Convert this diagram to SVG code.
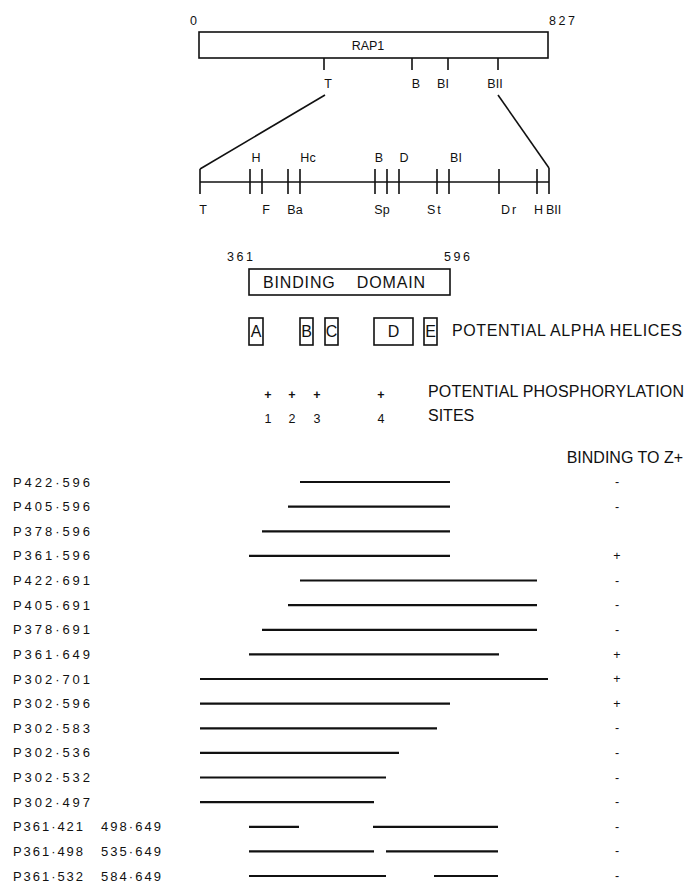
<svg xmlns="http://www.w3.org/2000/svg" width="685" height="883" viewBox="0 0 685 883">
<style>
text{font-family:"Liberation Sans",Arial,sans-serif;fill:#111}
.num{font-size:12.5px;letter-spacing:2.5px}
.lab{font-size:12.5px}
.big{font-size:16px}
.box{fill:none;stroke:#111;stroke-width:1.6}
.ln{stroke:#111;stroke-width:1.6;fill:none}
.frag{stroke:#111;stroke-width:2.2}
.row{font-size:13px}
.sg{font-size:12.5px;text-anchor:middle}
</style>
<rect width="685" height="883" fill="#fff"/>

<g id="rap1">
  <text class="num" x="190" y="25">0</text>
  <text class="num" x="549" y="25">827</text>
  <rect class="box" x="199" y="32" width="349" height="26"/>
  <text class="lab" x="368" y="50" text-anchor="middle" font-size="13">RAP1</text>
  <path class="ln" d="M324 58V70M412 58V70M448 58V70M498 58V70"/>
  <text class="lab" x="328" y="88" text-anchor="middle">T</text>
  <text class="lab" x="416" y="88" text-anchor="middle">B</text>
  <text class="lab" x="443" y="88" text-anchor="middle">BI</text>
  <text class="lab" x="495" y="88" text-anchor="middle">BII</text>
</g>

<g id="connectors">
  <path class="ln" d="M325 95L200 169" stroke-width="2"/>
  <path class="ln" d="M498 95L549 168" stroke-width="2"/>
</g>

<g id="restriction-map">
  <path class="ln" d="M200 182H549"/>
  <path class="ln" d="M200 169V194M549 168V194M250 169V194M262 169V194M288 169V194M300 169V194M375 169V194M387 169V194M399 169V194M437 169V194M449 169V194M499 169V194M537 169V194"/>
  <text class="lab" x="256" y="162" text-anchor="middle">H</text>
  <text class="lab" x="308" y="162" text-anchor="middle">Hc</text>
  <text class="lab" x="379" y="162" text-anchor="middle">B</text>
  <text class="lab" x="404" y="162" text-anchor="middle">D</text>
  <text class="lab" x="456" y="162" text-anchor="middle">BI</text>
  <text class="lab" x="203" y="214" text-anchor="middle">T</text>
  <text class="lab" x="266" y="214" text-anchor="middle">F</text>
  <text class="lab" x="295" y="214" text-anchor="middle">Ba</text>
  <text class="lab" x="382" y="214" text-anchor="middle">Sp</text>
  <text class="lab" x="427" y="214" letter-spacing="2">St</text>
  <text class="lab" x="501" y="214" letter-spacing="2">Dr</text>
  <text class="lab" x="534" y="214">H</text>
  <text class="lab" x="546" y="214">BII</text>
</g>

<g id="binding-domain">
  <text class="num" x="227" y="261">361</text>
  <text class="num" x="444" y="261">596</text>
  <rect class="box" x="249" y="269" width="201" height="26"/>
  <text class="big" x="263" y="288" font-size="16.5" textLength="162" xml:space="preserve">BINDING    DOMAIN</text>
</g>

<g id="helices">
  <rect class="box" x="249" y="318" width="14" height="27"/>
  <text class="big" x="256" y="337" text-anchor="middle">A</text>
  <rect class="box" x="300" y="318" width="13" height="27"/>
  <text class="big" x="306.5" y="337" text-anchor="middle">B</text>
  <rect class="box" x="325" y="318" width="13" height="27"/>
  <text class="big" x="331.5" y="337" text-anchor="middle">C</text>
  <rect class="box" x="374" y="318" width="39" height="27"/>
  <text class="big" x="393.5" y="337" text-anchor="middle">D</text>
  <rect class="box" x="424" y="318" width="13" height="27"/>
  <text class="big" x="430.5" y="337" text-anchor="middle">E</text>
  <text class="big" x="452" y="336" textLength="230">POTENTIAL ALPHA HELICES</text>
</g>

<g id="phospho">
  <text class="sg" x="268" y="399" font-weight="bold" font-size="10">+</text>
  <text class="sg" x="292" y="399" font-weight="bold" font-size="10">+</text>
  <text class="sg" x="317" y="399" font-weight="bold" font-size="10">+</text>
  <text class="sg" x="381" y="399" font-weight="bold" font-size="10">+</text>
  <text class="sg" x="268" y="423" font-size="13">1</text>
  <text class="sg" x="292" y="423" font-size="13">2</text>
  <text class="sg" x="317" y="423" font-size="13">3</text>
  <text class="sg" x="381" y="423" font-size="13">4</text>
  <text class="big" x="428" y="397" textLength="256">POTENTIAL PHOSPHORYLATION</text>
  <text class="big" x="428" y="421">SITES</text>
</g>

<g id="binding-header">
  <text class="big" x="683" y="463" font-size="16.5" text-anchor="end">BINDING TO Z+</text>
</g>

<g id="constructs">
  <g id="r1"><text class="row" x="13" y="486.5" textLength="77">P422·596</text><line class="frag" x1="300" y1="482" x2="450" y2="482"/><text class="sg" x="617" y="486">-</text></g>
  <g id="r2"><text class="row" x="13" y="511.1" textLength="77">P405·596</text><line class="frag" x1="288" y1="506.6" x2="450" y2="506.6"/><text class="sg" x="617" y="510.6">-</text></g>
  <g id="r3"><text class="row" x="13" y="535.8" textLength="77">P378·596</text><line class="frag" x1="262" y1="531.3" x2="450" y2="531.3"/></g>
  <g id="r4"><text class="row" x="13" y="560.4" textLength="77">P361·596</text><line class="frag" x1="249" y1="555.9" x2="450" y2="555.9"/><text class="sg" x="617" y="560">+</text></g>
  <g id="r5"><text class="row" x="13" y="585" textLength="77">P422·691</text><line class="frag" x1="300" y1="580.5" x2="537" y2="580.5"/><text class="sg" x="617" y="584.5">-</text></g>
  <g id="r6"><text class="row" x="13" y="609.6" textLength="77">P405·691</text><line class="frag" x1="288" y1="605.1" x2="537" y2="605.1"/><text class="sg" x="617" y="609.1">-</text></g>
  <g id="r7"><text class="row" x="13" y="634.3" textLength="77">P378·691</text><line class="frag" x1="262" y1="629.8" x2="537" y2="629.8"/><text class="sg" x="617" y="633.8">-</text></g>
  <g id="r8"><text class="row" x="13" y="658.9" textLength="77">P361·649</text><line class="frag" x1="249" y1="654.4" x2="499" y2="654.4"/><text class="sg" x="617" y="658.5">+</text></g>
  <g id="r9"><text class="row" x="13" y="683.5" textLength="77">P302·701</text><line class="frag" x1="200" y1="679" x2="548" y2="679"/><text class="sg" x="617" y="683">+</text></g>
  <g id="r10"><text class="row" x="13" y="708.1" textLength="77">P302·596</text><line class="frag" x1="200" y1="703.6" x2="450" y2="703.6"/><text class="sg" x="617" y="707.6">+</text></g>
  <g id="r11"><text class="row" x="13" y="732.8" textLength="77">P302·583</text><line class="frag" x1="200" y1="728.3" x2="437" y2="728.3"/><text class="sg" x="617" y="732.3">-</text></g>
  <g id="r12"><text class="row" x="13" y="757.4" textLength="77">P302·536</text><line class="frag" x1="200" y1="752.9" x2="399" y2="752.9"/><text class="sg" x="617" y="756.9">-</text></g>
  <g id="r13"><text class="row" x="13" y="782" textLength="77">P302·532</text><line class="frag" x1="200" y1="777.5" x2="386" y2="777.5"/><text class="sg" x="617" y="781.5">-</text></g>
  <g id="r14"><text class="row" x="13" y="806.6" textLength="77">P302·497</text><line class="frag" x1="200" y1="802.1" x2="374" y2="802.1"/><text class="sg" x="617" y="806.1">-</text></g>
  <g id="r15"><text class="row" x="13" y="831.3" textLength="70">P361·421</text><text class="row" x="101" y="831.3" textLength="60">498·649</text><line class="frag" x1="249" y1="826.8" x2="299" y2="826.8"/><line class="frag" x1="373" y1="826.8" x2="498" y2="826.8"/><text class="sg" x="617" y="830.8">-</text></g>
  <g id="r16"><text class="row" x="13" y="855.9" textLength="70">P361·498</text><text class="row" x="101" y="855.9" textLength="60">535·649</text><line class="frag" x1="249" y1="851.4" x2="374" y2="851.4"/><line class="frag" x1="386" y1="851.4" x2="498" y2="851.4"/><text class="sg" x="617" y="855.4">-</text></g>
  <g id="r17"><text class="row" x="13" y="880.5" textLength="70">P361·532</text><text class="row" x="101" y="880.5" textLength="60">584·649</text><line class="frag" x1="249" y1="876" x2="386" y2="876"/><line class="frag" x1="434" y1="876" x2="498" y2="876"/><text class="sg" x="617" y="880">-</text></g>
</g>
</svg>
